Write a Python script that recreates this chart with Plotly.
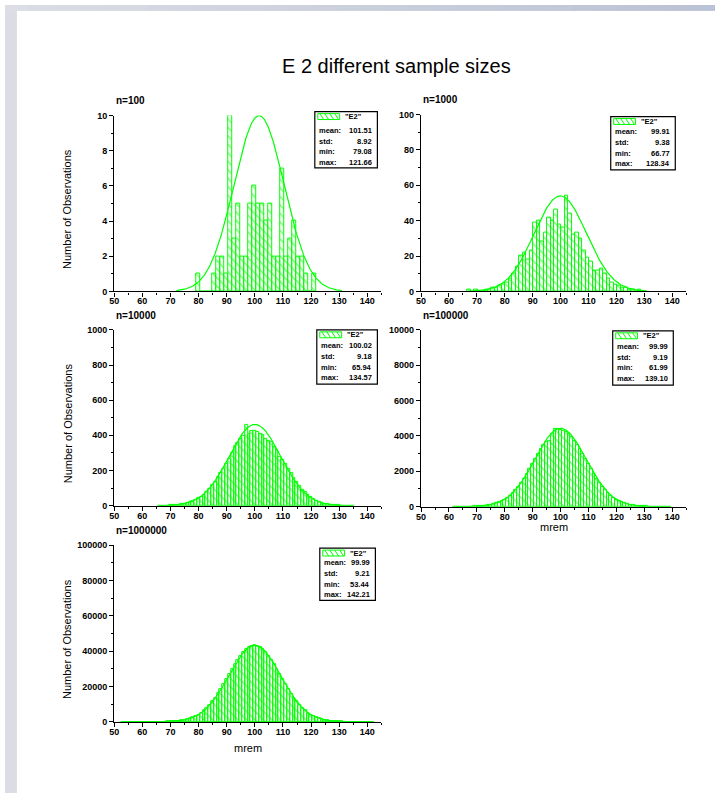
import numpy as np
import plotly.graph_objects as go

# ---------------- data ----------------
TITLE = "E 2 different sample sizes"
SERIES_NAME = '"E2"'
SAMPLE_LABELS = ["n=100", "n=1000", "n=10000", "n=100000", "n=1000000"]
STAT_NAMES = ["mean:", "std:", "min:", "max:"]
Y_TITLE = "Number of Observations"
X_TITLE = "mrem"

MEANS = [101.51, 99.91, 100.02, 99.99, 99.99]
STDS = [8.92, 9.38, 9.18, 9.19, 9.21]
MINS = [79.08, 66.77, 65.94, 61.99, 53.44]
MAXS = [121.66, 128.34, 134.57, 139.10, 142.21]
FIT_PEAKS = [10, 54, 462, 4430, 43300]

BIN_WIDTHS = [1.42, 1.25, 1.0, 1.0, 1.0]

CENTERS_N100 = [79.79, 81.21, 82.63, 84.05, 85.47, 86.89, 88.31, 89.73, 91.15, 92.57,
                93.99, 95.41, 96.83, 98.25, 99.67, 101.09, 102.51, 103.93, 105.35, 106.77,
                108.19, 109.61, 111.03, 112.45, 113.87, 115.29, 116.71, 118.13, 119.55, 120.97]
COUNTS_N100 = [1, 0, 0, 0, 1, 2, 2, 1, 10, 3,
               5, 2, 2, 5, 6, 5, 5, 4, 5, 2,
               2, 7, 2, 3, 4, 2, 2, 1, 0, 1]

CENTERS_N1000 = [67.13, 68.38, 69.63, 70.88, 72.13, 73.38, 74.63, 75.88, 77.13, 78.38,
                 79.63, 80.88, 82.13, 83.38, 84.63, 85.88, 87.13, 88.38, 89.63, 90.88,
                 92.13, 93.38, 94.63, 95.88, 97.13, 98.38, 99.63, 100.88, 102.13, 103.38,
                 104.63, 105.88, 107.13, 108.38, 109.63, 110.88, 112.13, 113.38, 114.63, 115.88,
                 117.13, 118.38, 119.63, 120.88, 122.13, 123.38, 124.63, 125.88, 127.13, 128.38]
COUNTS_N1000 = [1, 0, 1, 0, 0, 1, 1, 2, 2, 3,
                4, 5, 7, 10, 14, 20, 22, 18, 23, 39,
                40, 28, 33, 42, 40, 46, 38, 36, 54, 44,
                32, 33, 30, 23, 19, 17, 12, 12, 13, 10,
                7, 5, 4, 3, 2, 2, 1, 1, 0, 1]

CENTERS_N10000 = list(range(66, 136))
COUNTS_N10000 = [1, 0, 1, 1, 2, 3, 4, 7, 8, 11,
                 15, 19, 26, 34, 45, 52, 63, 78, 95, 117,
                 137, 162, 186, 211, 240, 266, 300, 338, 356, 381,
                 396, 458, 410, 424, 428, 420, 411, 405, 382, 368,
                 360, 335, 315, 280, 262, 236, 210, 184, 156, 135,
                 112, 92, 76, 60, 48, 37, 28, 21, 15, 11,
                 8, 6, 4, 3, 2, 1, 1, 0, 0, 1]

CENTERS_N100000 = list(range(62, 140))
COUNTS_N100000 = [1, 1, 2, 3, 5, 7, 10, 15,
                  21, 30, 42, 58, 79, 107, 143, 189, 247, 319,
                  406, 513, 637, 785, 953, 1145, 1360, 1594, 1851, 2121,
                  2400, 2687, 2972, 3249, 3508, 3650, 3720, 4140, 4420, 4400,
                  4335, 4305, 4255, 4120, 3950, 3745, 3505, 3250, 2975, 2690,
                  2400, 2120, 1850, 1595, 1360, 1145, 953, 785, 637, 513,
                  406, 319, 247, 189, 143, 107, 79, 58, 42, 30,
                  21, 15, 10, 7, 5, 3, 2, 1, 1, 1]

CENTERS_N1000000 = list(range(53, 143))
COUNTS_N1000000 = [1, 0, 0, 1, 1, 1, 2,
                   3, 5, 9, 13, 21, 32, 48, 71, 103, 150,
                   215, 304, 426, 589, 805, 1088, 1451, 1913, 2496, 3218,
                   4098, 5152, 6410, 7883, 9573, 11490, 13640, 15990, 18530, 21230,
                   24020, 26870, 29700, 32440, 35030, 37370, 39410, 41060, 42290, 43060,
                   43310, 43070, 42280, 41050, 39420, 37360, 35040, 32430, 29710, 26860,
                   24030, 21220, 18540, 15980, 13650, 11480, 9580, 7880, 6400, 5160,
                   4090, 3220, 2490, 1910, 1450, 1090, 800, 590, 430, 300,
                   215, 150, 103, 71, 48, 32, 21, 13, 9, 5,
                   3, 2, 1]

CENTERS = [CENTERS_N100, CENTERS_N1000, CENTERS_N10000, CENTERS_N100000, CENTERS_N1000000]
COUNTS = [COUNTS_N100, COUNTS_N1000, COUNTS_N10000, COUNTS_N100000, COUNTS_N1000000]

Y_TOPS = [10, 100, 1000, 10000, 100000]
Y_STEPS = [2, 20, 200, 2000, 20000]
X_RANGE = [50, 145]

# ---------------- page geometry (pixels) ----------------
W, H = 715, 798
PLOT_BOXES = [(110, 112, 379, 290), (419, 111, 686, 290),
              (110, 329, 379, 507), (419, 329, 686, 508),
              (110, 547, 379, 726)]
LEGEND_BOXES = [(312, 108, 375, 165), (610, 113, 675, 167),
                (314, 329, 375, 384), (612, 330, 673, 385),
                (317, 550, 373, 603)]
ROW_START = [19, 15.5, 16, 16, 15]
ROW_STEP = 10.8

FONT = "Liberation Sans, Arial, sans-serif"
GREEN = "#00FF00"
BOX_FONT = 7.5


def fx(px):
    return px / W


def fy(py):
    return 1 - py / H


fig = go.Figure()
layout = dict(
    width=W, height=H,
    margin=dict(l=0, r=0, t=0, b=0),
    paper_bgcolor="white", plot_bgcolor="rgba(0,0,0,0)",
    showlegend=False, bargap=0,
    font=dict(family=FONT, color="black"),
)
shapes = []
annotations = []

for i in range(5):
    sfx = "" if i == 0 else str(i + 1)
    xa, ya = "x" + sfx, "y" + sfx
    l, t, r, b = PLOT_BOXES[i]

    fig.add_trace(go.Bar(
        x=CENTERS[i], y=COUNTS[i], width=BIN_WIDTHS[i],
        xaxis=xa, yaxis=ya,
        marker=dict(color=GREEN, line=dict(color=GREEN, width=1),
                    pattern=dict(shape="\\", fgcolor=GREEN,
                                 bgcolor="rgba(0,0,0,0)", size=6, solidity=0.25)),
    ))

    # normal fit from the stated mean and standard deviation
    xs = np.linspace(MEANS[i] - 3.3 * STDS[i], MEANS[i] + 3.3 * STDS[i], 300)
    ys = FIT_PEAKS[i] * np.exp(-0.5 * ((xs - MEANS[i]) / STDS[i]) ** 2)
    fig.add_trace(go.Scatter(x=xs, y=ys, mode="lines", xaxis=xa, yaxis=ya,
                             line=dict(color=GREEN, width=1.2)))

    common = dict(showline=True, linecolor="black", linewidth=1.3,
                  ticks="outside", ticklen=4, tickwidth=1, tickcolor="black",
                  showgrid=False, zeroline=False, fixedrange=True,
                  tickformat="d",
                  tickfont=dict(family=FONT, size=9, color="black", weight="bold"))
    layout["xaxis" + sfx] = dict(
        domain=[fx(l), fx(r)], anchor=ya, range=X_RANGE,
        tick0=50, dtick=10, ticklabelstandoff=-3,
        minor=dict(ticks="outside", ticklen=2, tickwidth=1, tickcolor="black", dtick=5),
        **common)
    layout["yaxis" + sfx] = dict(
        domain=[fy(b), fy(t)], anchor=xa, range=[0, Y_TOPS[i]],
        tick0=0, dtick=Y_STEPS[i],
        minor=dict(ticks="outside", ticklen=2, tickwidth=1, tickcolor="black",
                   dtick=Y_STEPS[i] / 2),
        **common)

    # sample-size label
    annotations.append(dict(xref="paper", yref="paper", x=fx(l), y=fy(t - 15),
                            text="<b>%s</b>" % SAMPLE_LABELS[i], showarrow=False,
                            xanchor="left", yanchor="middle",
                            font=dict(family=FONT, size=10, color="black")))

    # statistics box
    L, T, R, B = LEGEND_BOXES[i]
    shapes.append(dict(type="rect", xref="paper", yref="paper",
                       x0=fx(L), x1=fx(R), y0=fy(B), y1=fy(T),
                       fillcolor="white", line=dict(color="black", width=1.2),
                       layer="above"))
    sx0, sx1, sy0, sy1 = L + 3, L + 25, T + 2, T + 8
    shapes.append(dict(type="rect", xref="paper", yref="paper",
                       x0=fx(sx0), x1=fx(sx1), y0=fy(sy1), y1=fy(sy0),
                       fillcolor="white", line=dict(color=GREEN, width=1),
                       layer="above"))
    for hx in range(sx0 + 2, sx1 - 4, 5):
        shapes.append(dict(type="line", xref="paper", yref="paper",
                           x0=fx(hx), x1=fx(hx + 4), y0=fy(sy0), y1=fy(sy1),
                           line=dict(color=GREEN, width=1), layer="above"))
    annotations.append(dict(xref="paper", yref="paper", x=fx(L + 28), y=fy(T + 5),
                            text="<b>%s</b>" % SERIES_NAME, showarrow=False,
                            xanchor="left", yanchor="middle",
                            font=dict(family=FONT, size=BOX_FONT, color="black")))
    vals = [MEANS[i], STDS[i], MINS[i], MAXS[i]]
    for k in range(4):
        yy = T + ROW_START[i] + ROW_STEP * k
        annotations.append(dict(xref="paper", yref="paper", x=fx(L + 2), y=fy(yy),
                                text="<b>%s</b>" % STAT_NAMES[k], showarrow=False,
                                xanchor="left", yanchor="middle",
                                font=dict(family=FONT, size=BOX_FONT, color="black")))
        annotations.append(dict(xref="paper", yref="paper", x=fx(R - 3), y=fy(yy),
                                text="<b>%.2f</b>" % vals[k], showarrow=False,
                                xanchor="right", yanchor="middle",
                                font=dict(family=FONT, size=BOX_FONT, color="black")))

# axis titles
for i in (0, 2, 4):
    l, t, r, b = PLOT_BOXES[i]
    annotations.append(dict(xref="paper", yref="paper", x=fx(63), y=fy((t + b) / 2 + 6),
                            text=Y_TITLE, showarrow=False, textangle=-90,
                            xanchor="center", yanchor="middle",
                            font=dict(family=FONT, size=11, color="black")))
for i in (3, 4):
    l, t, r, b = PLOT_BOXES[i]
    annotations.append(dict(xref="paper", yref="paper", x=fx((l + r) / 2),
                            y=fy(b + (26 if i == 4 else 21)),
                            text=X_TITLE, showarrow=False,
                            xanchor="center", yanchor="middle",
                            font=dict(family=FONT, size=11, color="black")))

annotations.append(dict(xref="paper", yref="paper", x=fx(394), y=fy(62),
                        text=TITLE, showarrow=False, xanchor="center", yanchor="middle",
                        font=dict(family=FONT, size=20, color="black")))

# page frame: left band and a top band shaded from grey to blue-grey
shapes.append(dict(type="rect", xref="paper", yref="paper",
                   x0=0, x1=fx(12), y0=0, y1=1, fillcolor="#dcdce4",
                   line=dict(width=0), layer="below"))
steps = 30
c0 = np.array([220, 221, 229])
c1 = np.array([186, 195, 213])
for s in range(steps):
    c = (c0 + (c1 - c0) * s / (steps - 1)).astype(int)
    shapes.append(dict(type="rect", xref="paper", yref="paper",
                       x0=fx(W * s / steps), x1=fx(W * (s + 1) / steps + 1),
                       y0=fy(6), y1=1, fillcolor="rgb(%d,%d,%d)" % tuple(c),
                       line=dict(width=0), layer="below"))

layout["shapes"] = shapes
layout["annotations"] = annotations
fig.update_layout(**layout)
fig.write_html("out.html")
